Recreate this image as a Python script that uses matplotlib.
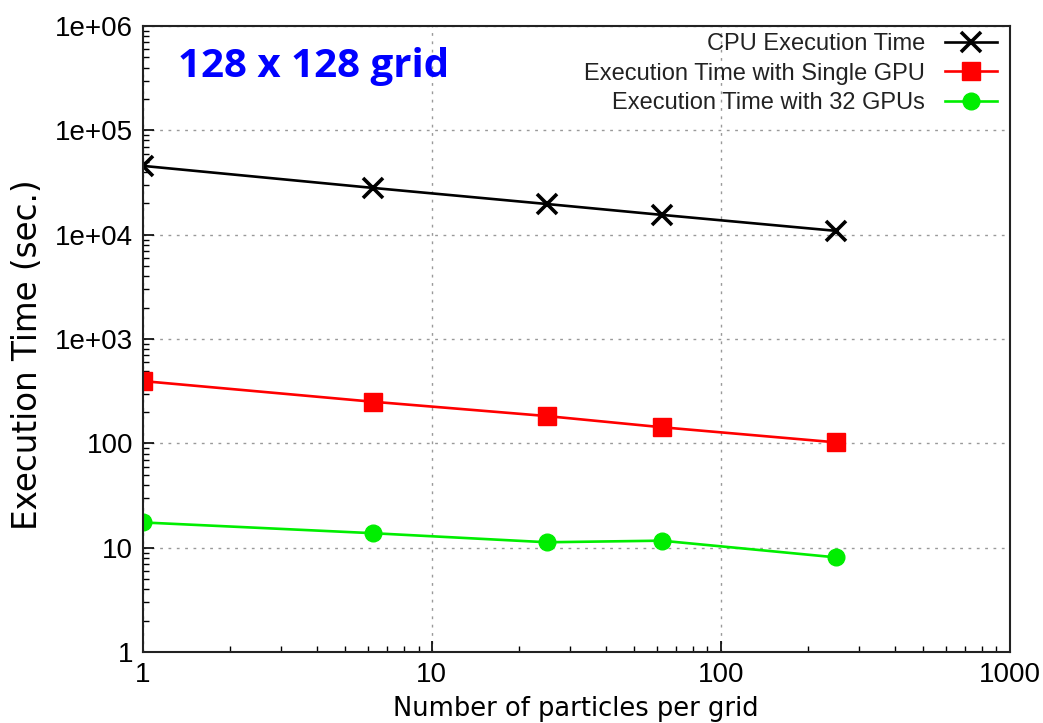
import matplotlib
matplotlib.use("Agg")
import matplotlib.pyplot as plt
from matplotlib.ticker import FixedLocator, FixedFormatter, LogLocator, NullFormatter

# particles per grid cell
particles = [1, 6.25, 25, 62.5, 250]

# execution time in seconds
cpu_time = [45700, 28100, 19700, 15500, 10900]
gpu1_time = [396, 251, 183, 143, 102.5]
gpu32_time = [17.5, 13.8, 11.3, 11.7, 8.1]

labels = ["CPU Execution Time", "Execution Time with Single GPU", "Execution Time with 32 GPUs"]
y_ticks = [1, 10, 100, 1e3, 1e4, 1e5, 1e6]
y_tick_labels = ["1", "10", "100", "1e+03", "1e+04", "1e+05", "1e+06"]
x_ticks = [1, 10, 100, 1000]
x_tick_labels = ["1", "10", "100", "1000"]

plt.rcParams['font.family'] = ['Liberation Sans', 'DejaVu Sans']

fig = plt.figure(figsize=(10.43, 7.23), dpi=100)
ax = fig.add_axes([0.137, 0.098, 0.831, 0.866])

ax.plot(particles, cpu_time, color='black', lw=1.9, marker='x', ms=14, mew=2.6,
        label=labels[0])
ax.plot(particles, gpu1_time, color='#ff0000', lw=1.9, marker='s', ms=13.5,
        label=labels[1])
ax.plot(particles, gpu32_time, color='#00ee00', lw=1.9, marker='o', ms=12,
        label=labels[2])

ax.set_xscale('log')
ax.set_yscale('log')
ax.set_xlim(1, 1000)
ax.set_ylim(1, 1e6)

ax.xaxis.set_major_locator(FixedLocator(x_ticks))
ax.xaxis.set_major_formatter(FixedFormatter(x_tick_labels))
ax.yaxis.set_major_locator(FixedLocator(y_ticks))
ax.yaxis.set_major_formatter(FixedFormatter(y_tick_labels))
ax.xaxis.set_minor_locator(LogLocator(base=10, subs=range(2, 10)))
ax.yaxis.set_minor_locator(LogLocator(base=10, subs=range(2, 10)))
ax.xaxis.set_minor_formatter(NullFormatter())
ax.yaxis.set_minor_formatter(NullFormatter())

ax.tick_params(which='major', direction='in', length=8, width=1.2, labelsize=20, pad=7)
ax.tick_params(which='minor', direction='in', length=4, width=1)
ax.grid(True, which='major', color='#999999', linestyle=(0, (2, 4)), lw=1)

for s in ax.spines.values():
    s.set_linewidth(1.5)
    s.set_color('#222222')

ax.set_xlabel("Number of particles per grid", fontsize=18.5, family='DejaVu Sans', labelpad=6)
ax.set_ylabel("Execution Time (sec.)", fontsize=23.5, family='DejaVu Sans')
ax.yaxis.set_label_coords(-0.114, 0.475)

ax.text(0.04, 0.935, "128 x 128 grid", transform=ax.transAxes, color='#0000ff',
        fontsize=29, fontweight='bold', family='Open Sans', va='center', ha='left')

leg = ax.legend(loc='upper right', bbox_to_anchor=(0.994, 1.0), frameon=False,
                markerfirst=False, fontsize=17, handlelength=2.2, handletextpad=0.85,
                labelspacing=0.32, borderaxespad=0.1, borderpad=0.2)
for t in leg.get_texts():
    t.set_color('#222222')

fig.savefig("out.png", dpi=100)
